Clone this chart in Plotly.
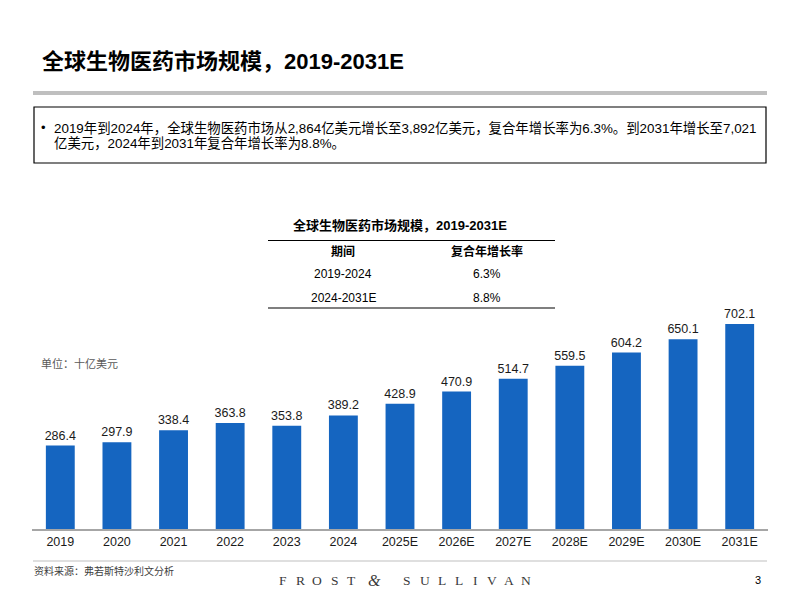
import plotly.graph_objects as go

categories = ["2019", "2020", "2021", "2022", "2023", "2024", "2025E", "2026E",
              "2027E", "2028E", "2029E", "2030E", "2031E"]
values = [286.4, 297.9, 338.4, 363.8, 353.8, 389.2, 428.9, 470.9,
          514.7, 559.5, 604.2, 650.1, 702.1]

table_header = ["期间", "复合年增长率"]
table_periods = ["2019-2024", "2024-2031E"]
table_cagr = ["6.3%", "8.8%"]

title_text = "全球生物医药市场规模，2019-2031E"
body_line1 = "2019年到2024年，全球生物医药市场从2,864亿美元增长至3,892亿美元，复合年增长率为6.3%。到2031年增长至7,021"
body_line2 = "亿美元，2024年到2031年复合年增长率为8.8%。"
unit_text = "单位：十亿美元"
source_text = "资料来源：弗若斯特沙利文分析"
logo_letters = ["F", "R", "O", "S", "T", "&amp;", "S", "U", "L", "L", "I", "V", "A", "N"]

W, H = 800, 600
FONT = "Liberation Sans, Arial, Noto Sans CJK SC, sans-serif"
CJK = "Noto Sans CJK SC, Liberation Sans, sans-serif"
SERIF = "Liberation Serif, DejaVu Serif, serif"
BLUE = "#1565C0"


def px(x):
    return x / W


def py(y):
    return 1 - y / H


fig = go.Figure()
fig.add_trace(go.Bar(
    x=categories, y=values,
    marker=dict(color=BLUE, line=dict(width=0)),
    text=[f"{v:.1f}" for v in values],
    textposition="outside",
    constraintext="none",
    textfont=dict(family=FONT, size=12.5, color="#1a1a1a"),
    cliponaxis=False,
    hoverinfo="skip",
))

shapes = []
annotations = []

# header rule
shapes.append(dict(type="line", xref="paper", yref="paper",
                   x0=px(33), x1=px(767), y0=py(93), y1=py(93),
                   line=dict(color="#BFBFBF", width=4)))
# summary box
shapes.append(dict(type="rect", xref="paper", yref="paper",
                   x0=px(34), x1=px(766), y0=py(107), y1=py(163),
                   line=dict(color="#000000", width=1.2)))
# table rules
shapes.append(dict(type="line", xref="paper", yref="paper",
                   x0=px(268), x1=px(555), y0=py(240.5), y1=py(240.5),
                   line=dict(color="#000000", width=1.2)))
shapes.append(dict(type="line", xref="paper", yref="paper",
                   x0=px(268), x1=px(555), y0=py(308), y1=py(308),
                   line=dict(color="#000000", width=1.2)))
# footer rule
shapes.append(dict(type="line", xref="paper", yref="paper",
                   x0=px(33), x1=px(767), y0=py(561), y1=py(561),
                   line=dict(color="#BFBFBF", width=1)))


def ann(text, x, y, size, color="#000000", family=FONT, xanchor="left", bold=False):
    if bold:
        text = f"<b>{text}</b>"
    annotations.append(dict(text=text, x=px(x), y=py(y), xref="paper", yref="paper",
                            xanchor=xanchor, yanchor="middle", showarrow=False,
                            font=dict(family=family, size=size, color=color)))


ann(title_text, 40, 62, 22, bold=True)
ann("•", 39, 127, 13)
ann(body_line1, 52, 128, 13.4)
ann(body_line2, 52, 143, 13.4)

ann(title_text, 400, 225, 13, xanchor="center", bold=True)
ann(table_header[0], 343, 252, 12, xanchor="center", bold=True)
ann(table_header[1], 487, 252, 12, xanchor="center", bold=True)
for i, (p, c) in enumerate(zip(table_periods, table_cagr)):
    yy = 274 + i * 23.5
    ann(p, 343, yy, 12, xanchor="center")
    ann(c, 487, yy, 12, xanchor="center")

ann(unit_text, 39, 363, 11, color="#595959", family=CJK)
ann(source_text, 32, 570, 10, color="#404040", family=CJK)

logo_x = [283, 300, 317, 335, 351, 374, 407, 425, 442, 459, 475, 492, 509, 526]
for letter, lx in zip(logo_letters, logo_x):
    t = f"<i>{letter}</i>" if letter == "&amp;" else letter
    ann(t, lx, 580, 16 if letter == "&amp;" else 13.5, color="#3a3a3a",
        family=SERIF, xanchor="center")

ann("3", 758, 580, 11, color="#000000", xanchor="center")

fig.update_layout(
    width=W, height=H,
    margin=dict(l=0, r=0, t=0, b=0),
    paper_bgcolor="white", plot_bgcolor="white",
    showlegend=False,
    bargap=0.49,
    shapes=shapes,
    annotations=annotations,
    xaxis=dict(domain=[px(32), px(768)], range=[-0.5, 12.5], type="category",
               showline=True, linecolor="#A6A6A6", linewidth=1.5,
               showgrid=False, zeroline=False, ticks="",
               tickfont=dict(family=FONT, size=12.5, color="#1a1a1a"),
               fixedrange=True),
    yaxis=dict(domain=[py(529.3), py(300)], range=[0, 784], visible=False,
               showgrid=False, zeroline=False, fixedrange=True),
)

fig.write_html("out.html", config={"displayModeBar": False},
               post_script="document.body.style.margin='0';")
